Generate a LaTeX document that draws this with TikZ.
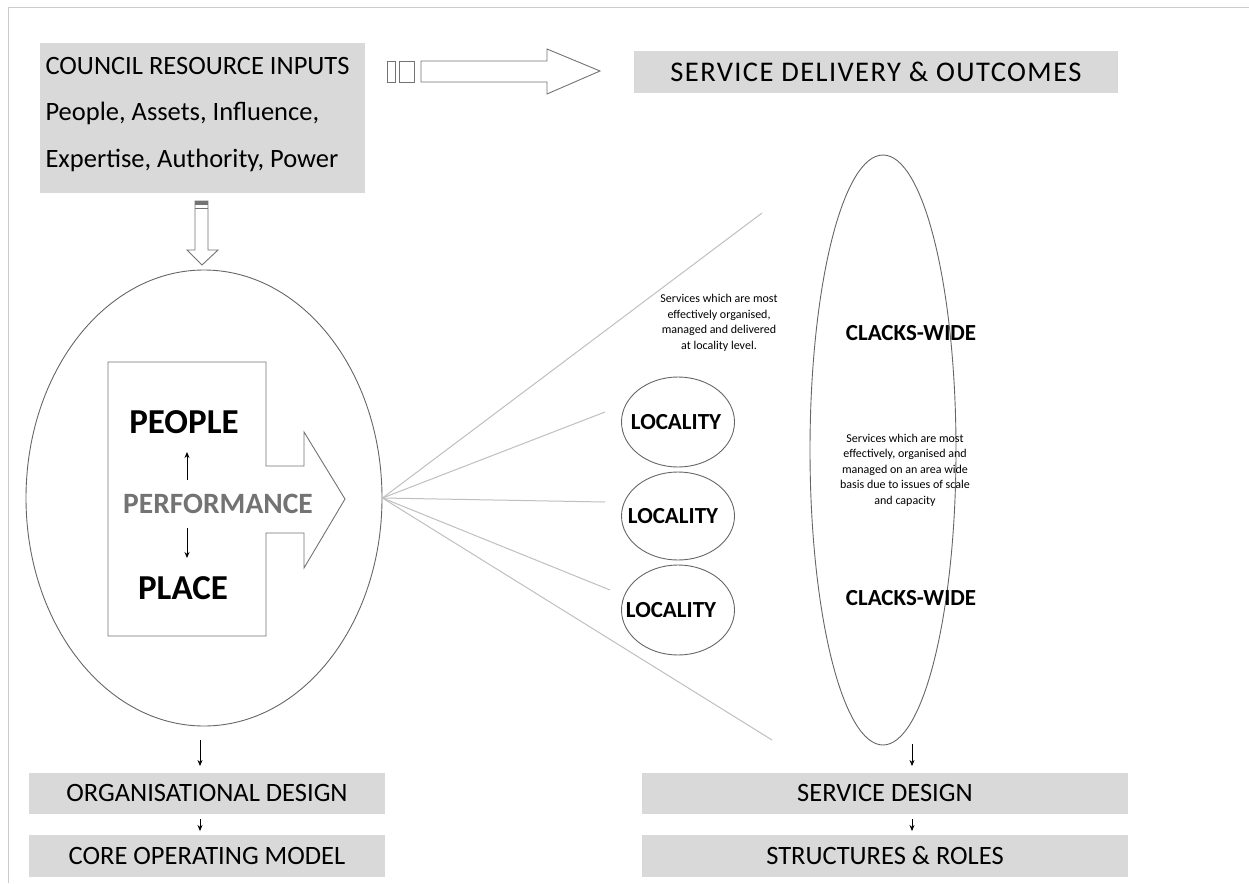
\documentclass[tikz,border=0pt]{standalone}
\usepackage{fontspec}
\setmainfont{Carlito}
\usepackage{tikz}
\usetikzlibrary{positioning,shapes.geometric,arrows.meta}

\tikzset{
  bar/.style={fill=black!15,minimum height=41pt,inner sep=0pt,font=\fontsize{26.5}{30}\selectfont},
  oval/.style={draw=black!60,ellipse,line width=0.9pt,inner sep=0pt},
  spoke/.style={draw=black!25,line width=1pt},
  down/.style={-{Stealth[length=6pt,width=5pt]},line width=0.6pt},
  blk/.style={draw=black!55,line width=0.9pt,fill=white},
  big/.style={font=\bfseries\fontsize{35}{38}\selectfont},
  tag/.style={font=\bfseries\fontsize{23}{26}\selectfont},
  note/.style={align=center,font=\fontsize{12}{15.5}\selectfont},
}

\begin{document}
\begin{tikzpicture}[x=1pt,y=-1pt]
  \useasboundingbox (0,0) rectangle (1249,883);
  % frame
  \draw[black!20,line width=1pt] (8,883) -- (8,8) -- (1249,8);

  % inputs box and the top arrow
  \node[fill=black!15,minimum width=325pt,minimum height=150pt,anchor=north west] (inputs) at (40,43) {};
  \node[anchor=west,font=\fontsize{26.5}{30}\selectfont] (in1) at (42,66) {COUNCIL RESOURCE INPUTS};
  \node[anchor=west,font=\fontsize{26.5}{30}\selectfont] (in2) at (42,113) {People, Assets, Influence,};
  \node[anchor=west,font=\fontsize{26.5}{30}\selectfont] (in3) at (42,160) {Expertise, Authority, Power};
  \node[bar,minimum width=484pt,font=\addfontfeature{LetterSpace=5}\fontsize{28.5}{30}\selectfont] (outcomes) at (876,72) {SERVICE DELIVERY \& OUTCOMES};

  \draw[blk] (387,61) rectangle (395,82);
  \draw[blk] (399,61) rectangle (414,82);
  \draw[blk] (421,61) -- (547,61) -- (547,49) -- (600,71) -- (547,94) -- (547,82) -- (421,82) -- cycle;

  % down arrow into the big oval
  \draw[blk] (195,201) -- (208,201) -- (208,250) -- (218,250) -- (202,265) -- (187,250) -- (195,250) -- cycle;
  \fill[black!55] (195,201) rectangle (208,205);
  \draw[black!55,line width=0.8pt] (195,208) -- (208,208);

  % big oval with the performance arrow
  \node[oval,minimum width=356pt,minimum height=456pt] (core) at (204,498) {};
  \draw[blk] (108,362) -- (266,362) -- (266,466) -- (304,466) -- (304,432) -- (345,499)
    -- (304,568) -- (304,533) -- (266,533) -- (266,636) -- (108,636) -- cycle;
  \node[big] (people) at (184,422) {PEOPLE};
  \node[font=\bfseries\fontsize{29.5}{32}\selectfont,text=black!55] (perf) at (218,504) {PERFORMANCE};
  \node[big] (place) at (183,588) {PLACE};
  \draw[-{Stealth[length=6pt,width=5pt]},line width=0.8pt] (187,480) -- (187,452);
  \draw[-{Stealth[length=6pt,width=5pt]},line width=0.8pt] (187,528) -- (187,558);

  % spokes
  \coordinate (hub) at (core.east);
  \coordinate (top) at (762,213);
  \coordinate (bot) at (772,740);
  \draw[spoke] (hub) -- (top);
  \draw[spoke] (hub) -- (605,412);
  \draw[spoke] (hub) -- (605,502);
  \draw[spoke] (hub) -- (610,590);
  \draw[spoke] (hub) -- (bot);

  % localities
  \node[oval,minimum width=113pt,minimum height=90pt] (loc1) at (678,422) {};
  \node[oval,minimum width=113pt,minimum height=88pt] (loc2) at (678,516) {};
  \node[oval,minimum width=113pt,minimum height=90pt] (loc3) at (678,610) {};
  \node[tag] (loc1t) at (676,422) {LOCALITY};
  \node[tag] (loc2t) at (673,516) {LOCALITY};
  \node[tag] (loc3t) at (671,610) {LOCALITY};
  \node[note] (locnote) at (719,323)
    {Services which are most\\effectively organised,\\managed and delivered\\at locality level.};

  % clacks-wide
  \node[oval,minimum width=146pt,minimum height=590pt] (wide) at (883,450) {};
  \node[tag] (cw1) at (911,333) {CLACKS-WIDE};
  \node[tag] (cw2) at (911,598) {CLACKS-WIDE};
  \node[note] (widenote) at (905,470)
    {Services which are most\\effectively, organised and\\managed on an area wide\\basis due to issues of scale\\and capacity};

  % bottom boxes
  \node[bar,minimum width=356pt] (org) at (207,793) {ORGANISATIONAL DESIGN};
  \node[bar,minimum width=356pt,minimum height=42pt] (model) at (207,856) {CORE OPERATING MODEL};
  \node[bar,minimum width=486pt] (sdesign) at (885,793) {SERVICE DESIGN};
  \node[bar,minimum width=486pt,minimum height=42pt] (roles) at (885,856) {STRUCTURES \& ROLES};

  \draw[down] (200,740) -- (200,766);
  \draw[down] (200,819) -- (200,831);
  \draw[down] (912,744) -- (912,766);
  \draw[down] (912,819) -- (912,831);
\end{tikzpicture}
\end{document}
